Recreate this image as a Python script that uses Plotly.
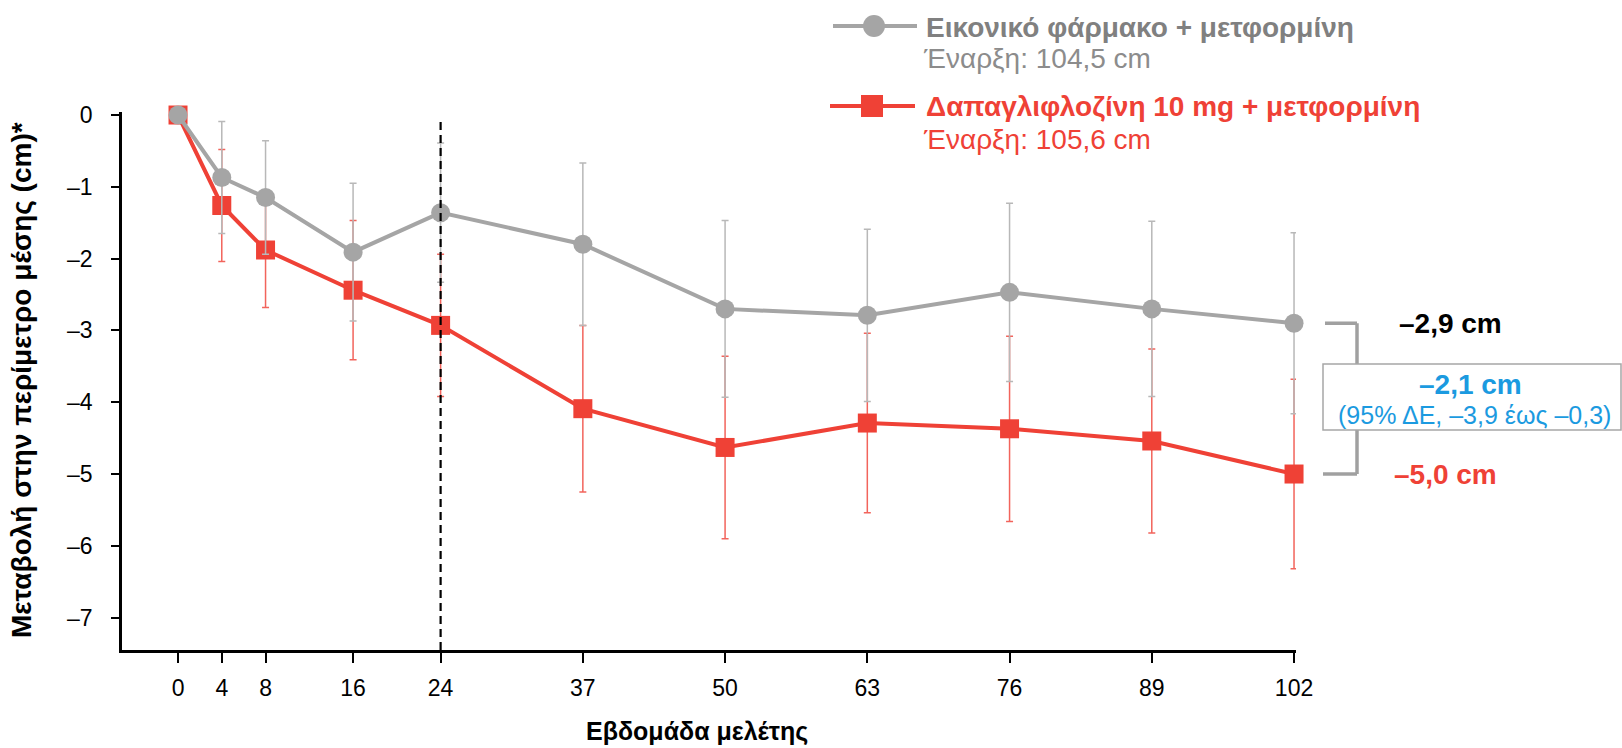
import plotly.graph_objects as go

# Study weeks and mean change in waist circumference (cm), with error half-widths
weeks = [0, 4, 8, 16, 24, 37, 50, 63, 76, 89, 102]
placebo_change = [0, -0.87, -1.15, -1.91, -1.36, -1.80, -2.70, -2.79, -2.47, -2.70, -2.9]
placebo_err = [0, 0.78, 0.79, 0.96, 0.97, 1.13, 1.23, 1.20, 1.24, 1.22, 1.26]
dapa_change = [0, -1.26, -1.88, -2.44, -2.93, -4.09, -4.63, -4.29, -4.37, -4.54, -5.0]
dapa_err = [0, 0.78, 0.80, 0.97, 0.99, 1.16, 1.27, 1.25, 1.29, 1.28, 1.32]

y_ticks = [0, -1, -2, -3, -4, -5, -6, -7]
y_tick_text = ["0", "–1", "–2", "–3", "–4", "–5", "–6", "–7"]

placebo_name = "Εικονικό φάρμακο + μετφορμίνη"
placebo_base = "Έναρξη: 104,5 cm"
dapa_name = "Δαπαγλιφλοζίνη 10 mg + μετφορμίνη"
dapa_base = "Έναρξη: 105,6 cm"
placebo_end_label = "–2,9 cm"
dapa_end_label = "–5,0 cm"
diff_label = "–2,1 cm"
diff_ci_label = "(95% ΔΕ, –3,9 έως –0,3)"
x_title = "Εβδομάδα μελέτης"
y_title = "Μεταβολή στην περίμετρο μέσης (cm)*"

GRAY = "#a5a5a5"
GRAY_ERR = "#b8b8b8"
RED = "#ef4136"
RED_ERR = "#f2645c"
BLUE = "#1b9ae0"
FONT = "Arial, 'Liberation Sans', sans-serif"

W, H = 1622, 748
ML, MR, MT, MB = 122, 326, 112, 98
PW, PH = W - ML - MR, H - MT - MB


def px(x):
    return (x - ML) / PW


def py(y):
    return (H - MB - y) / PH


fig = go.Figure()

fig.add_trace(go.Scatter(
    x=weeks, y=dapa_change, mode="lines+markers", name=dapa_name,
    line=dict(color=RED, width=4),
    marker=dict(symbol="square", size=19, color=RED),
    error_y=dict(type="data", array=dapa_err, color=RED_ERR, thickness=1.5, width=3.5),
    cliponaxis=False, showlegend=False,
))
fig.add_trace(go.Scatter(
    x=weeks, y=placebo_change, mode="lines+markers", name=placebo_name,
    line=dict(color=GRAY, width=4),
    marker=dict(symbol="circle", size=19, color=GRAY),
    error_y=dict(type="data", array=placebo_err, color=GRAY_ERR, thickness=1.5, width=3.5),
    cliponaxis=False, showlegend=False,
))

shapes = []
# week-24 reference line
shapes.append(dict(type="line", xref="x", yref="paper", x0=24, x1=24, y0=0, y1=py(122),
                   line=dict(color="black", width=2.2, dash="8px,5px")))

# bracket joining the two week-102 values
br = dict(color="#a0a0a0", width=3.5)
shapes.append(dict(type="line", xref="paper", yref="y", x0=px(1325), x1=px(1357),
                   y0=placebo_change[-1], y1=placebo_change[-1], line=br))
shapes.append(dict(type="line", xref="paper", yref="y", x0=px(1357), x1=px(1357),
                   y0=placebo_change[-1], y1=dapa_change[-1], line=br))
shapes.append(dict(type="line", xref="paper", yref="y", x0=px(1323), x1=px(1357),
                   y0=dapa_change[-1], y1=dapa_change[-1], line=br))
# difference box
shapes.append(dict(type="rect", xref="paper", yref="paper", x0=px(1323), x1=px(1621),
                   y0=py(430), y1=py(364), fillcolor="white",
                   line=dict(color="#a6a6a6", width=1.5)))

# legend keys
shapes.append(dict(type="line", xref="paper", yref="paper", x0=px(833), x1=px(917),
                   y0=py(26), y1=py(26), line=dict(color=GRAY, width=4)))
shapes.append(dict(type="circle", xref="paper", yref="paper", xsizemode="pixel", ysizemode="pixel",
                   xanchor=px(874), yanchor=py(26), x0=-11, x1=11, y0=-11, y1=11,
                   fillcolor=GRAY, line=dict(width=0)))
shapes.append(dict(type="line", xref="paper", yref="paper", x0=px(830), x1=px(915),
                   y0=py(106), y1=py(106), line=dict(color=RED, width=4)))
shapes.append(dict(type="rect", xref="paper", yref="paper", xsizemode="pixel", ysizemode="pixel",
                   xanchor=px(872), yanchor=py(106), x0=-11, x1=11, y0=-11, y1=11,
                   fillcolor=RED, line=dict(width=0)))

ann = []


def text(x, y, s, size, color, bold=False, xanchor="left", xref="paper", yref="paper", angle=0):
    ann.append(dict(x=x, y=y, xref=xref, yref=yref, text=f"<b>{s}</b>" if bold else s,
                    showarrow=False, xanchor=xanchor, yanchor="middle", textangle=angle,
                    font=dict(family=FONT, size=size, color=color)))


text(px(924), py(27), placebo_name, 28, "#808080", bold=True)
text(px(921), py(59), placebo_base, 28, "#8c8c8c")
text(px(924), py(106), dapa_name, 28, RED, bold=True)
text(px(921), py(139), dapa_base, 28, RED)

text(px(1450), placebo_change[-1], placebo_end_label, 28, "black", bold=True, xanchor="center", yref="y")
text(px(1445), dapa_change[-1], dapa_end_label, 28, RED, bold=True, xanchor="center", yref="y")
text(px(1470), py(384), diff_label, 28, BLUE, bold=True, xanchor="center")
text(px(1474), py(415), diff_ci_label, 25, BLUE, xanchor="center")

text(px(697), py(731), x_title, 25, "black", bold=True, xanchor="center")
text(px(21), py(380), y_title, 28, "black", bold=True, xanchor="center", angle=-90)

fig.update_layout(
    width=W, height=H,
    margin=dict(l=ML, r=MR, t=MT, b=MB),
    paper_bgcolor="white", plot_bgcolor="white",
    font=dict(family=FONT, color="black"),
    shapes=shapes, annotations=ann,
    showlegend=False,
)
fig.update_xaxes(
    range=[-5.12, 102.18], tickvals=weeks, ticktext=[str(w) for w in weeks],
    showline=True, linecolor="black", linewidth=2.5, ticks="outside", ticklen=10,
    tickwidth=2, tickcolor="black", showgrid=False, zeroline=False,
    tickfont=dict(size=23, family=FONT), ticklabelstandoff=6,
)
fig.update_yaxes(
    range=[-7.451, 0.042], tickvals=y_ticks, ticktext=y_tick_text,
    showline=True, linecolor="black", linewidth=2.5, ticks="outside", ticklen=8,
    tickwidth=2, tickcolor="black", showgrid=False, zeroline=False,
    tickfont=dict(size=23, family=FONT), ticklabelstandoff=14,
)

fig.write_html("out.html")
